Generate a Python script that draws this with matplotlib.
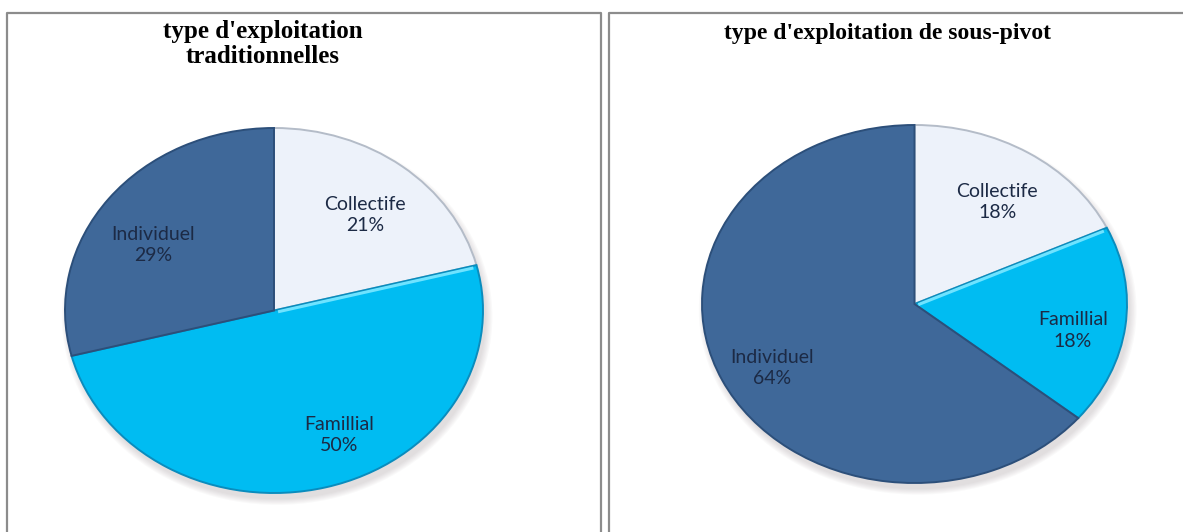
import matplotlib
matplotlib.use("Agg")
import matplotlib.pyplot as plt
import numpy as np
from matplotlib.lines import Line2D
from matplotlib.patches import Ellipse

W, H = 1183, 532

categories = ["Collectife", "Famillial", "Individuel"]
trad_values = [21, 50, 29]
pivot_values = [18, 18, 64]
titles = ["type d'exploitation\ntraditionnelles", "type d'exploitation de sous-pivot"]

colors = ["#edf2fa", "#00bcf2", "#3f6899"]
edges = ["#b4bcc8", "#0a8cbd", "#2c4f7a"]
label_color = "#1c2a45"


def px(x, y):
    # pixel position (origin top-left) -> figure fraction
    return x / W, 1 - y / H


fig = plt.figure(figsize=(W / 100, H / 100), dpi=100)
fig.patch.set_facecolor("white")

# panel frames
frame_kw = dict(color="#8c8c8c", lw=1.6, transform=fig.transFigure)
for xs, ys in [([7, 7, 601, 601], [532, 13, 13, 532]),
               ([609, 609, 1183], [532, 13, 13])]:
    fx, fy = zip(*[px(a, b) for a, b in zip(xs, ys)])
    fig.add_artist(Line2D(fx, fy, **frame_kw))


def draw_pie(bbox, values, label_r, nudges):
    x0, y0, x1, y1 = bbox
    left, top = px(x0, y0)
    right, bottom = px(x1, y1)
    ax = fig.add_axes([left, bottom, right - left, top - bottom])

    wedges, _ = ax.pie(values, colors=colors, startangle=90, counterclock=False,
                       radius=1.0, wedgeprops=dict(linewidth=1.4))
    # stretch the pie to fill the (wider than tall) box
    ax.set_aspect("auto")
    ax.set_xlim(-1.0, 1.0)
    ax.set_ylim(-1.0, 1.0)
    ax.axis("off")
    for w, ec in zip(wedges, edges):
        w.set_edgecolor(ec)
        w.set_zorder(2)

    # bevel highlight along the upper edge of the Famillial slice
    fam = wedges[1]
    a = np.deg2rad(fam.theta2)
    ax.plot([0.02 * np.cos(a), 0.985 * np.cos(a)],
            [0.02 * np.sin(a) - 0.012, 0.985 * np.sin(a) - 0.012],
            color="#6fe3ff", lw=2.2, solid_capstyle="butt", zorder=3)

    # soft drop shadow under the pie
    for k in range(6):
        ax.add_patch(Ellipse((0.015, -0.035), 2.0 + 0.012 * k, 2.0 + 0.012 * k,
                             color="#9a8f95", alpha=0.05, lw=0, zorder=0,
                             clip_on=False))

    for w, name, v, r, (dth, dr) in zip(wedges, categories, values, label_r, nudges):
        mid = np.deg2rad((w.theta1 + w.theta2) / 2 + dth)
        rr = r + dr
        ax.text(rr * np.cos(mid), rr * np.sin(mid), f"{name}\n{v}%",
                ha="center", va="center", fontsize=14, color=label_color,
                family="Lato", linespacing=1.3, zorder=5)
    return ax


draw_pie((65, 128, 483, 493), trad_values, [0.68, 0.72, 0.68],
         [(-2, 0.0), (10, 0.03), (6, 0.0)])
draw_pie((702, 125, 1127, 483), pivot_values, [0.69, 0.76, 0.76],
         [(-2, 0.0), (-4, 0.0), (3, 0.0)])

# titles
tx, ty = px(263, 44)
fig.text(tx, ty, titles[0], ha="center", va="center", fontsize=18,
         fontweight="bold", family="Liberation Serif", linespacing=1.15)
tx, ty = px(887, 34)
fig.text(tx, ty, titles[1], ha="center", va="center", fontsize=17,
         fontweight="bold", family="Liberation Serif")

fig.savefig("out.png", dpi=100, facecolor="white")
